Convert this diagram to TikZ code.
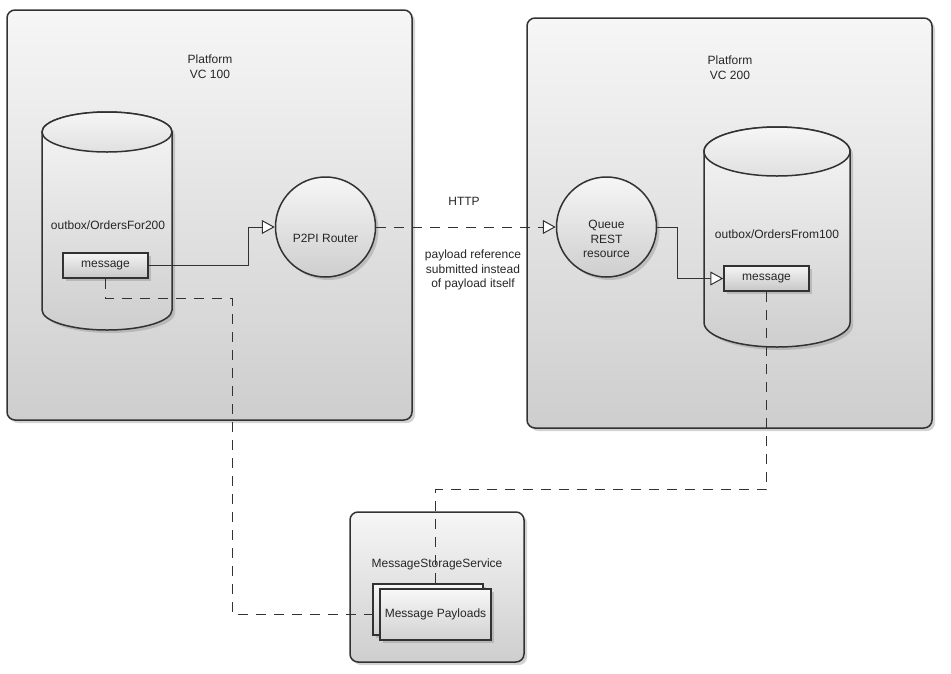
\documentclass[tikz,border=0pt]{standalone}
\usepackage{fontspec}
\setmainfont{Liberation Sans}
\usetikzlibrary{positioning, calc, arrows.meta, shadows}
\definecolor{boxtop}{RGB}{246,246,246}
\definecolor{boxbot}{RGB}{206,206,206}
\definecolor{edgegray}{RGB}{50,50,50}

\begin{document}
\begin{tikzpicture}[x=1pt, y=-1pt,
    every node/.style={font=\fontsize{12}{14.8}\selectfont, text=black!85},
    softshadow/.style={drop shadow={shadow xshift=3pt, shadow yshift=-3pt, opacity=0.35}},
    platbox/.style={draw=edgegray, line width=1.5pt, rounded corners=8pt, top color=boxtop, bottom color=boxbot, softshadow},
    cylbody/.style={draw=edgegray, line width=1.5pt, top color=boxtop, bottom color=boxbot, softshadow},
    msgbox/.style={draw=edgegray, line width=1.5pt, top color=white!96!black, bottom color=black!22, minimum width=85, minimum height=25, inner sep=0pt, softshadow},
    payloadbox/.style={draw=edgegray, line width=1.5pt, top color=white!97!black, bottom color=black!18, minimum width=111, minimum height=51, inner sep=0pt, softshadow},
    roundnode/.style={circle, draw=edgegray, line width=1.5pt, minimum size=100, inner sep=0pt, top color=boxtop, bottom color=boxbot, softshadow},
    link/.style={draw=edgegray, line width=1pt, -{Triangle[fill=white, length=13pt, width=14pt]}},
    dashlink/.style={draw=edgegray, line width=1pt, dash pattern=on 10pt off 8pt}]
\useasboundingbox (0,0) rectangle (951,673);

\node[platbox, minimum width=405, minimum height=410] (vc100) at (209.5,215) {};
\node[platbox, minimum width=405, minimum height=410] (vc200) at (729.5,223) {};
\node[platbox, minimum width=174, minimum height=150] (storage) at (437,587) {};
\node[align=center] (vc100lbl) at (210,67) {Platform\\VC 100};
\node[align=center] (vc200lbl) at (730,68) {Platform\\VC 200};
\node (storagelbl) at (437,564) {MessageStorageService};

\draw[cylbody] (42,132) -- (42,310) arc[start angle=180, end angle=0, x radius=65, y radius=20]
  -- (172,132) arc[start angle=0, end angle=-180, x radius=65, y radius=20] -- cycle;
\draw[draw=edgegray, line width=1.5pt, top color=boxtop, bottom color=black!12] (107,132) ellipse[x radius=65, y radius=20];
\draw[cylbody] (704,151.5) -- (704,322.5) arc[start angle=180, end angle=0, x radius=73, y radius=24.5]
  -- (850,151.5) arc[start angle=0, end angle=-180, x radius=73, y radius=24.5] -- cycle;
\draw[draw=edgegray, line width=1.5pt, top color=boxtop, bottom color=black!12] (777,151.5) ellipse[x radius=73, y radius=24.5];
\node (ordersfor) at (108,225) {outbox/OrdersFor200};
\node (ordersfrom) at (777,234) {outbox/OrdersFrom100};

\node[msgbox] (msg1) at (105.5,265.5) {message};
\node[msgbox] (msg2) at (766.5,278.5) {message};
\node[roundnode, label={[yshift=-11pt]center:P2PI Router}] (router) at (325.5,227) {};
\node[roundnode, label={[yshift=-12pt, align=center]center:Queue\\REST\\resource}] (queue) at (606.5,227) {};

\node[payloadbox, minimum width=110] (payloadback) at (428,609.5) {};
\node[payloadbox] (payload) at (435.5,614.5) {Message Payloads};

\node (http) at (464,201) {HTTP};
\node[align=center] (note) at (473,270) {payload reference\\submitted instead\\of payload itself};

\draw[link] (msg1.east) -- ++(100,0) |- (router.west);
\draw[dashlink, -{Triangle[fill=white, length=13pt, width=14pt]}] (router.east) -- (queue.west);
\draw[link] (queue.east) -- ++(20,0) |- (msg2.west);
\draw[dashlink] (msg1.south) -- ++(0,20) -- ++(126.5,0) |- (payload.west);
\draw[dashlink] (msg2.south) -- ++(0,198) -| (payload.north);
\end{tikzpicture}
\end{document}
